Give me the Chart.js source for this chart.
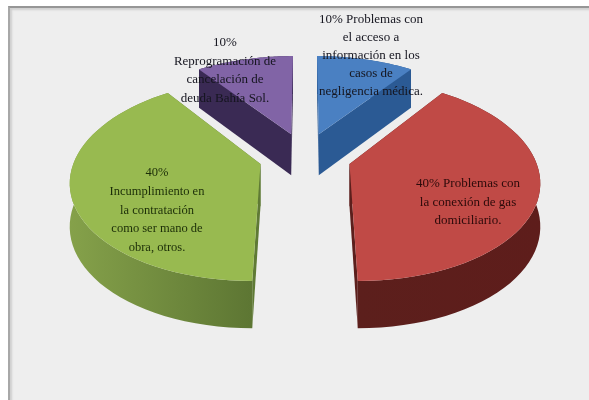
<!DOCTYPE html>
<html>
<head>
<meta charset="utf-8">
<script src="https://cdn.jsdelivr.net/npm/chart.js@4"></script>
<style>
    html, body { margin: 0; padding: 0; background: #ffffff; }
    .frame {
        position: absolute;
        left: 8px; top: 6px; width: 581px; height: 394px;
        border-left: 2px solid #a8a8a8;
        border-top: 2px solid #969696;
        box-sizing: border-box;
        background: #eeeeee;
        box-shadow: inset 2px 2px 2px #cfcfcf;
    }
    canvas { position: absolute; left: 0; top: 0; }
</style>
</head>
<body>
<div class="frame"></div>
<canvas id="pie" width="589" height="400"></canvas>
<script>
const categories = [
    '10% Problemas con el acceso a información en los casos de negligencia médica.',
    '40% Problemas con la conexión de gas domiciliario.',
    '40% Incumplimiento en la contratación como ser mano de obra, otros.',
    '10% Reprogramación de cancelación de deuda Bahía Sol.'
];
const values = [10, 40, 40, 10];
const topColors = ['#4a80c2', '#c04a46', '#98ba50', '#8164a6'];
const cutColors = ['#2b5a94', '#5c1f1c', '#5f7a35', '#3a2a54'];
const sideColorsLeft = ['#2b5a94', '#5c1f1c', '#85a14a', '#3a2a54'];
const sideColorsRight = ['#2b5a94', '#5e1d1b', '#5d7633', '#3a2a54'];

// wrapped label text, one entry per slice
const labelLines = [
    ['10% Problemas con', 'el acceso a', 'información en los', 'casos de', 'negligencia médica.'],
    ['40% Problemas con', 'la conexión de gas', 'domiciliario.'],
    ['40%', 'Incumplimiento en', 'la contratación', 'como ser mano de', 'obra, otros.'],
    ['10%', 'Reprogramación de', 'cancelación de', 'deuda Bahía Sol.']
];
const labelBoxes = [
    { x: 371, y: 20, step: 18, font: 13, color: '#15151f' },
    { x: 468, y: 184, step: 18.5, font: 13, color: '#2c0a0a' },
    { x: 157, y: 173, step: 18.7, font: 12.5, color: '#1c2e08' },
    { x: 225, y: 43, step: 18.4, font: 13, color: '#15151f' }
];

// camera for the tilted disc
const view = { cx: 305, cy: 156.4, ax: 185, ay: 96.5, k: 0.154, explode: 0.25 };

function project(pt) {
    const s = 1 / (1 + view.k * pt.wz);
    return {
        x: view.cx + view.ax * pt.wx * s,
        y: view.cy - view.ay * pt.wz * s,
        drop: 16 + 26 * s
    };
}

// outline of one slice, on the unit disc pushed out along its bisector
function sliceOutline(arc) {
    const start = arc.startAngle + Math.PI / 2;
    const end = arc.endAngle + Math.PI / 2;
    const mid = (start + end) / 2;
    const ox = Math.sin(mid) * view.explode;
    const oz = Math.cos(mid) * view.explode;
    const rim = [];
    const steps = 48;
    for (let i = 0; i <= steps; i++) {
        const a = start + (end - start) * i / steps;
        rim.push(project({ wx: ox + Math.sin(a), wz: oz + Math.cos(a) }));
    }
    return { apex: project({ wx: ox, wz: oz }), rim, isBack: oz > 0 };
}

function extrude(ctx, points, fill) {
    ctx.fillStyle = fill;
    ctx.beginPath();
    points.forEach((p, i) => (i ? ctx.lineTo(p.x, p.y) : ctx.moveTo(p.x, p.y)));
    [...points].reverse().forEach(p => ctx.lineTo(p.x, p.y + p.drop));
    ctx.closePath();
    ctx.fill();
}

const tiltedSlices = {
    id: 'tiltedSlices',
    beforeDatasetsDraw(chart) {
        const ctx = chart.ctx;
        chart.getDatasetMeta(0).data.forEach((arc, i) => {
            const { apex, rim, isBack } = sliceOutline(arc);
            const xs = rim.map(p => p.x);
            const side = ctx.createLinearGradient(Math.min(...xs), 0, Math.max(...xs), 0);
            side.addColorStop(0, sideColorsLeft[i]);
            side.addColorStop(1, sideColorsRight[i]);

            const drawSide = () => extrude(ctx, rim, side);
            const drawCuts = () => {
                extrude(ctx, [apex, rim[0]], cutColors[i]);
                extrude(ctx, [apex, rim[rim.length - 1]], cutColors[i]);
            };
            // far slices show the cut faces in front of the curve, near ones the reverse
            if (isBack) {
                drawSide();
                drawCuts();
            } else {
                drawCuts();
                drawSide();
            }

            ctx.fillStyle = topColors[i];
            ctx.beginPath();
            ctx.moveTo(apex.x, apex.y);
            rim.forEach(p => ctx.lineTo(p.x, p.y));
            ctx.closePath();
            ctx.fill();
        });
        return false;
    },
    afterDraw(chart) {
        const ctx = chart.ctx;
        ctx.save();
        ctx.textAlign = 'center';
        ctx.textBaseline = 'middle';
        labelLines.forEach((lines, i) => {
            const box = labelBoxes[i];
            ctx.font = `${box.font}px "Liberation Serif", serif`;
            ctx.fillStyle = box.color;
            lines.forEach((line, j) => ctx.fillText(line, box.x, box.y + j * box.step));
        });
        ctx.restore();
    }
};

new Chart(document.getElementById('pie'), {
    type: 'pie',
    data: {
        labels: categories,
        datasets: [{
            data: values,
            backgroundColor: topColors,
            borderWidth: 0
        }]
    },
    options: {
        responsive: false,
        animation: false,
        events: [],
        plugins: {
            legend: { display: false },
            tooltip: { enabled: false }
        }
    },
    plugins: [tiltedSlices]
});
</script>
</body>
</html>
